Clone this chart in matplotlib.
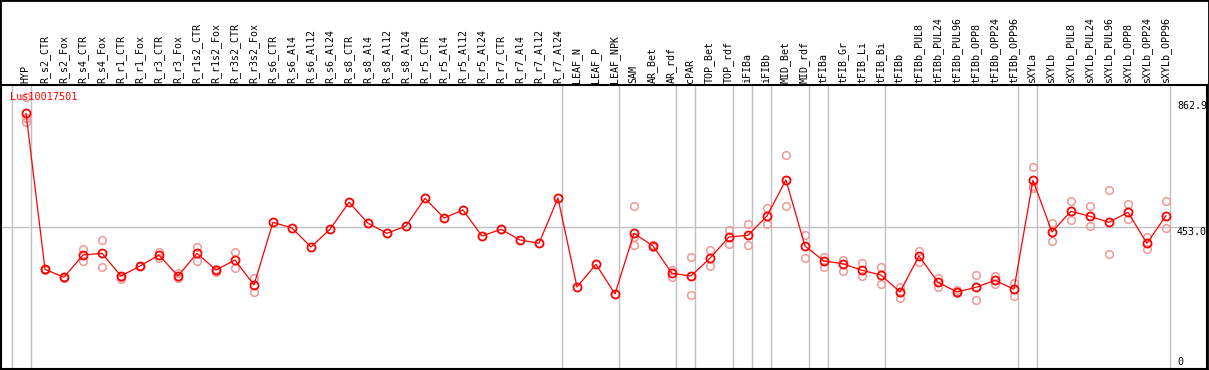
import matplotlib
matplotlib.use("Agg")
import matplotlib.pyplot as plt
from matplotlib.patches import Rectangle
from matplotlib.transforms import blended_transform_factory

# sample names along the x axis
samples = ["HYP",
           "R_s2_CTR", "R_s2_Fox", "R_s4_CTR", "R_s4_Fox", "R_r1_CTR", "R_r1_Fox",
           "R_r3_CTR", "R_r3_Fox", "R_r1s2_CTR", "R_r1s2_Fox", "R_r3s2_CTR", "R_r3s2_Fox",
           "R_s6_CTR", "R_s6_Al4", "R_s6_Al12", "R_s6_Al24", "R_s8_CTR", "R_s8_Al4",
           "R_s8_Al12", "R_s8_Al24", "R_r5_CTR", "R_r5_Al4", "R_r5_Al12", "R_r5_Al24",
           "R_r7_CTR", "R_r7_Al4", "R_r7_Al12", "R_r7_Al24",
           "LEAF_N", "LEAF_P", "LEAF_NPK",
           "SAM", "AR_Bet", "AR_rdf",
           "cPAR",
           "TOP_Bet", "TOP_rdf",
           "iFIBa",
           "iFIBb",
           "MID_Bet", "MID_rdf",
           "tFIBa",
           "tFIB_Gr", "tFIB_Li", "tFIB_Bi",
           "tFIBb", "tFIBb_PUL8", "tFIBb_PUL24", "tFIBb_PUL96", "tFIBb_OPP8",
           "tFIBb_OPP24", "tFIBb_OPP96",
           "sXYLa",
           "sXYLb", "sXYLb_PUL8", "sXYLb_PUL24", "sXYLb_PUL96", "sXYLb_OPP8",
           "sXYLb_OPP24", "sXYLb_OPP96"]

# how many samples sit in each block between the grey separators
group_sizes = [1, 28, 3, 3, 1, 2, 1, 1, 2, 1, 3, 7, 1, 7]

# mean expression per sample
means = [822.4,
         316.7, 290.8, 363.0, 368.6, 295.0, 327.4, 363.0, 295.0, 368.6, 314.4, 346.8, 265.8,
         469.0, 450.6, 389.0, 446.4, 533.9, 465.8, 433.4, 457.0, 546.8, 483.0, 508.9, 424.6,
         446.4, 411.7, 401.0, 547.8,
         259.3, 332.9, 236.6,
         433.4, 392.2, 303.7,
         295.0,
         352.4, 421.4,
         426.9,
         489.5,
         606.2, 392.2,
         343.6,
         334.8, 313.5, 298.2,
         243.1, 359.8, 274.6, 243.1, 258.3, 281.0, 251.9,
         605.2,
         437.6, 504.7, 488.5, 469.0, 501.5, 401.0, 490.4]

# single replicates (empty where none are shown)
replicates = [[874.2, 806.2, 795.1],
              [319.0, 314.0], [293.0, 288.0], [381.5, 344.6], [411.7, 325.1],
              [292.7, 285.3], [327.4, 327.0], [373.7, 352.4], [303.7, 287.5],
              [390.0, 344.6], [317.7, 308.9], [371.8, 319.9], [287.5, 244.1],
              [], [], [], [], [], [], [], [], [], [], [], [], [], [], [], [],
              [], [], [],
              [521.9, 421.4, 395.5], [395.5, 389.0], [314.4, 292.7],
              [355.6, 233.4],
              [378.3, 326.4], [444.1, 397.7],
              [462.6, 394.5],
              [514.4, 462.6],
              [687.2, 521.9], [427.9, 352.4],
              [357.5, 325.1],
              [346.8, 312.2], [338.1, 296.0], [324.1, 268.1],
              [260.3, 224.6], [377.0, 341.3], [289.5, 260.3], [249.6, 238.9],
              [298.2, 216.2], [295.0, 269.0], [273.3, 231.1],
              [647.3, 587.7, 581.2],
              [465.8, 407.5], [537.1, 476.5], [520.9, 457.0], [573.7, 366.3],
              [528.4, 478.8], [421.4, 381.5], [538.1, 449.6]]

ytick_values = [862.9, 453.0, 0]
gene = "Lus10017501"

mono = "DejaVu Sans Mono"
W, H = 1209, 370

fig = plt.figure(figsize=(W / 100, H / 100), dpi=100)
# plot box: x 1..1207 px, y 85..369 px from top
ax = fig.add_axes([1 / W, 1 / H, 1206 / W, 284 / H])

x = list(range(len(samples)))
ax.set_xlim(-1.316, 62.16)
ax.set_ylim(-6.5, 914.1)
ax.set_xticks([])
ax.set_yticks([])
for s in ax.spines.values():
    s.set_color("black")
    s.set_linewidth(1.5)

# grey separators between sample groups
off = 4.5 / 19
seps = [-1 + off]
pos = -1
for g in group_sizes:
    pos += g
    seps.append(pos + off)
for s in seps:
    ax.axvline(s, color="#c0c0c0", lw=1, zorder=1)
ax.axhline(ytick_values[1], color="#c0c0c0", lw=1, zorder=1)

# replicates
for i, reps in enumerate(replicates):
    if reps:
        ax.plot([i] * len(reps), reps, "o", ms=5.5, mfc="none", mec="#f09898",
                mew=1.1, zorder=2)

# mean line and markers
ax.plot(x, means, "-", color="red", lw=0.9, zorder=3)
ax.plot(x, means, "o", ms=5.8, mfc="none", mec="red", mew=1.3, zorder=4)

# sample labels above the plot
trans = blended_transform_factory(ax.transData, ax.transAxes)
for i, name in enumerate(samples):
    ax.text(i - 0.03, 1 + 2 / 284, name, transform=trans, rotation=90,
            ha="center", va="bottom", fontsize=7.2, family=mono, clip_on=False)

# gene name
ax.text(8.7 / 1206, 1 - 12 / 284, gene, transform=ax.transAxes, color="red",
        ha="left", va="center", fontsize=7.3, family=mono)

# value labels on the right
rtrans = blended_transform_factory(ax.transAxes, ax.transData)
ax.text(1176 / 1206, ytick_values[0], "%.1f" % ytick_values[0], transform=rtrans,
        ha="left", va="top", fontsize=7.2, family=mono)
ax.text(1176 / 1206, ytick_values[1], "%.1f" % ytick_values[1], transform=rtrans,
        ha="left", va="top", fontsize=7.2, family=mono)
ax.text(1176 / 1206, ytick_values[2], "%d" % ytick_values[2], transform=rtrans,
        ha="left", va="bottom", fontsize=7.2, family=mono)

# frame round the whole picture
fig.add_artist(Rectangle((0, 0), 1, 1, transform=fig.transFigure, fill=False,
                         edgecolor="black", lw=2))

fig.savefig("out.png", dpi=100)
